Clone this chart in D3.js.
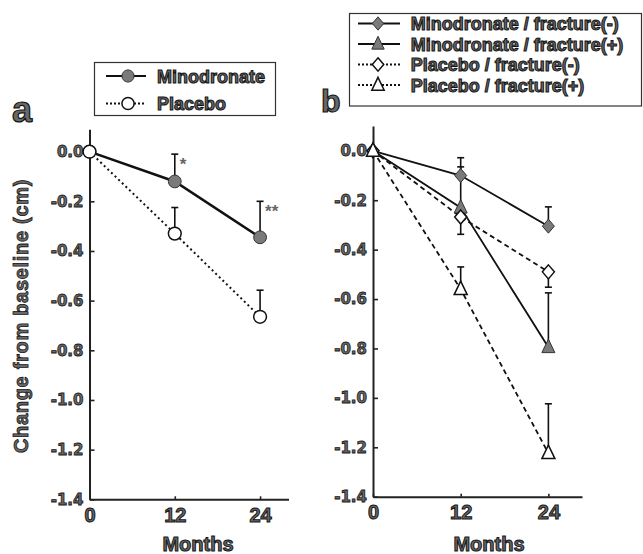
<!DOCTYPE html>
<html>
<head>
<meta charset="utf-8">
<script src="https://cdn.jsdelivr.net/npm/d3@7"></script>
<style>
  body { margin: 0; background: #fff; }
  svg { display: block; }
  .lbl { font-family: "Liberation Sans", Arial, sans-serif; font-weight: bold; fill: #686868; stroke: #151515; stroke-width: 1px; }
</style>
</head>
<body>
<svg id="chart" width="643" height="554"></svg>
<script>
// months on the x axis
const months = [0, 12, 24];
const xTicks = [0, 12, 24];
const yTicks = [0, -0.2, -0.4, -0.6, -0.8, -1.0, -1.2, -1.4];

// panel a
const minodronate = [0, -0.12, -0.345];
const minodronateErr = [0, 0.11, 0.145];
const placebo = [0, -0.33, -0.665];
const placeboErr = [0, 0.105, 0.107];
const signif = ["", "*", "**"];

// panel b
const minoFxNeg = [0, -0.10, -0.305];
const minoFxNegErr = [0, 0.072, 0.078];
const minoFxPos = [0, -0.23, -0.795];
const minoFxPosErr = [0, 0.165, 0.22];
const placeboFxNeg = [0, -0.268, -0.49];
const placeboFxNegErr = [0, 0.07, 0.062];
const placeboFxPos = [0, -0.56, -1.224];
const placeboFxPosErr = [0, 0.09, 0.2];

const svg = d3.select("#chart");

// marker shapes
function diamondPath(w, h) { return `M0,${-h}L${w},0L0,${h}L${-w},0Z`; }
function trianglePath(w, h) { return `M0,${-h * 0.6}L${w},${h * 0.4}L${-w},${h * 0.4}Z`; }
const shapes = {
    circle: (s) => d3.symbol(d3.symbolCircle, Math.PI * 6.4 * 6.4 * s * s)(),
    diamond: (s) => diamondPath(6 * s, 7 * s),
    triangle: (s) => trianglePath(6.5 * s, 13.5 * s)
};

function marker(g, shape, filled, s) {
    return g.append("path")
        .attr("d", shapes[shape](s))
        .attr("fill", filled ? "#7a7a7a" : "#fff")
        .attr("stroke", filled ? "#333" : "#111")
        .attr("stroke-width", filled ? 1 : 1.5);
}

function drawPanel(cfg) {
    const g = svg.append("g");
    const x = d3.scaleLinear().domain(cfg.xDomain).range(cfg.xRange);
    const y = d3.scaleLinear().domain(cfg.yDomain).range(cfg.yRange);

    const yAxis = d3.axisLeft(y)
        .tickValues(yTicks)
        .tickFormat(d => d.toFixed(1))
        .tickSizeInner(-5)
        .tickSizeOuter(0)
        .tickPadding(6);

    const xAxis = d3.axisBottom(x)
        .tickValues(xTicks)
        .tickSizeInner(-3)
        .tickSizeOuter(0)
        .tickPadding(8.5);

    const ya = g.append("g")
        .attr("transform", "translate(" + x(0) + ",0)")
        .call(yAxis);
    ya.selectAll("text")
        .attr("class", "lbl")
        .style("font-family", "'DejaVu Sans', sans-serif")
        .style("font-size", "15px")
        .style("stroke-width", "0.8px");

    const xa = g.append("g")
        .attr("transform", "translate(0," + y(-1.4) + ")")
        .call(xAxis);
    xa.selectAll("text")
        .attr("class", "lbl")
        .style("font-size", "20px");

    g.selectAll(".domain").attr("stroke", "#222").attr("stroke-width", 2);
    g.selectAll(".tick line").attr("stroke", "#222").attr("stroke-width", 1.6);

    // lines
    cfg.series.forEach(s => {
        const line = d3.line()
            .x((d, i) => x(months[i]))
            .y(d => y(d));
        g.append("path")
            .datum(s.values)
            .attr("d", line)
            .attr("fill", "none")
            .attr("stroke", "#111")
            .attr("stroke-width", s.width)
            .attr("stroke-dasharray", s.dash);
    });

    // error bars
    cfg.series.forEach(s => {
        s.values.forEach((v, i) => {
            if (!s.err[i]) return;
            const end = v + s.dir * s.err[i];
            g.append("line")
                .attr("x1", x(months[i])).attr("x2", x(months[i]))
                .attr("y1", y(v)).attr("y2", y(end))
                .attr("stroke", "#111").attr("stroke-width", 1.6);
            g.append("line")
                .attr("x1", x(months[i]) - 3.5).attr("x2", x(months[i]) + 3.5)
                .attr("y1", y(end)).attr("y2", y(end))
                .attr("stroke", "#111").attr("stroke-width", 1.6);
        });
    });

    // markers
    cfg.series.forEach(s => {
        s.values.forEach((v, i) => {
            marker(g, s.shape, s.filled, 1)
                .attr("transform", "translate(" + x(months[i]) + "," + y(v) + ")");
        });
    });

    if (cfg.stars) {
        const s = cfg.series[0];
        s.values.forEach((v, i) => {
            if (!cfg.stars[i]) return;
            g.append("text")
                .attr("x", x(months[i]) + 5)
                .attr("y", y(v + s.err[i]) + 16)
                .style("font-family", "'Liberation Sans', Arial, sans-serif")
                .style("font-size", "17px")
                .style("font-weight", "bold")
                .attr("fill", "#666")
                .text(cfg.stars[i]);
        });
    }

    // x label
    g.append("text")
        .attr("class", "lbl")
        .attr("x", cfg.monthsX)
        .attr("y", 551)
        .attr("text-anchor", "middle")
        .style("font-size", "20px")
        .text("Months");

    // panel letter
    g.append("text")
        .attr("class", "lbl")
        .attr("x", cfg.letterPos[0])
        .attr("y", cfg.letterPos[1])
        .style("font-size", cfg.letterSize + "px")
        .style("stroke-width", "1.2px")
        .text(cfg.letter);

    // legend
    const lg = g.append("g");
    const L = cfg.legend;
    lg.append("rect")
        .attr("x", L.x).attr("y", L.y)
        .attr("width", L.w).attr("height", L.h)
        .attr("fill", "none").attr("stroke", "#333").attr("stroke-width", 1.2);
    cfg.series.forEach((s, i) => {
        const yy = L.row0 + i * L.step;
        lg.append("line")
            .attr("x1", L.lineX[0]).attr("x2", L.lineX[1])
            .attr("y1", yy).attr("y2", yy)
            .attr("stroke", "#111")
            .attr("stroke-width", 2)
            .attr("stroke-dasharray", s.dash ? "2,2" : null);
        marker(lg, s.shape, s.filled, 0.95)
            .attr("transform", "translate(" + L.markX + "," + yy + ")");
        lg.append("text")
            .attr("class", "lbl")
            .attr("x", L.textX)
            .attr("y", yy + 6.5)
            .style("font-size", "18px")
            .text(s.name);
    });
}

drawPanel({
    xDomain: [0, 28], xRange: [89.5, 288.5],
    yDomain: [-1.4, 0.09], yRange: [499.3, 129.3],
    letter: "a", letterPos: [12, 122], letterSize: 36,
    monthsX: 198,
    stars: signif,
    legend: { x: 94.5, y: 62.5, w: 181, h: 53, row0: 76, step: 27.5, lineX: [106, 146], markX: 128, textX: 157 },
    series: [
        { name: "Minodronate", values: minodronate, err: minodronateErr, dir: 1, shape: "circle", filled: true, width: 2.5, dash: null },
        { name: "Placebo", values: placebo, err: placeboErr, dir: 1, shape: "circle", filled: false, width: 2, dash: "2,3" }
    ]
});

drawPanel({
    xDomain: [0, 28.6], xRange: [373, 582],
    yDomain: [-1.4, 0.1], yRange: [496.7, 126.1],
    letter: "b", letterPos: [321, 112], letterSize: 32,
    monthsX: 489,
    legend: { x: 349.5, y: 13.5, w: 292, h: 92.5, row0: 23.5, step: 20.5, lineX: [358, 400], markX: 378, textX: 410.7 },
    series: [
        { name: "Minodronate / fracture(-)", values: minoFxNeg, err: minoFxNegErr, dir: 1, shape: "diamond", filled: true, width: 1.8, dash: null },
        { name: "Minodronate / fracture(+)", values: minoFxPos, err: minoFxPosErr, dir: 1, shape: "triangle", filled: true, width: 1.8, dash: null },
        { name: "Placebo / fracture(-)", values: placeboFxNeg, err: placeboFxNegErr, dir: -1, shape: "diamond", filled: false, width: 1.8, dash: "5,3.5" },
        { name: "Placebo / fracture(+)", values: placeboFxPos, err: placeboFxPosErr, dir: 1, shape: "triangle", filled: false, width: 1.8, dash: "5,3.5" }
    ]
});

// y axis title
svg.append("text")
    .attr("class", "lbl")
    .attr("transform", "translate(28,316) rotate(-90)")
    .attr("text-anchor", "middle")
    .style("font-size", "20px")
    .style("letter-spacing", "0.7px")
    .style("stroke-width", "0.8px")
    .text("Change from baseline (cm)");
</script>
</body>
</html>
